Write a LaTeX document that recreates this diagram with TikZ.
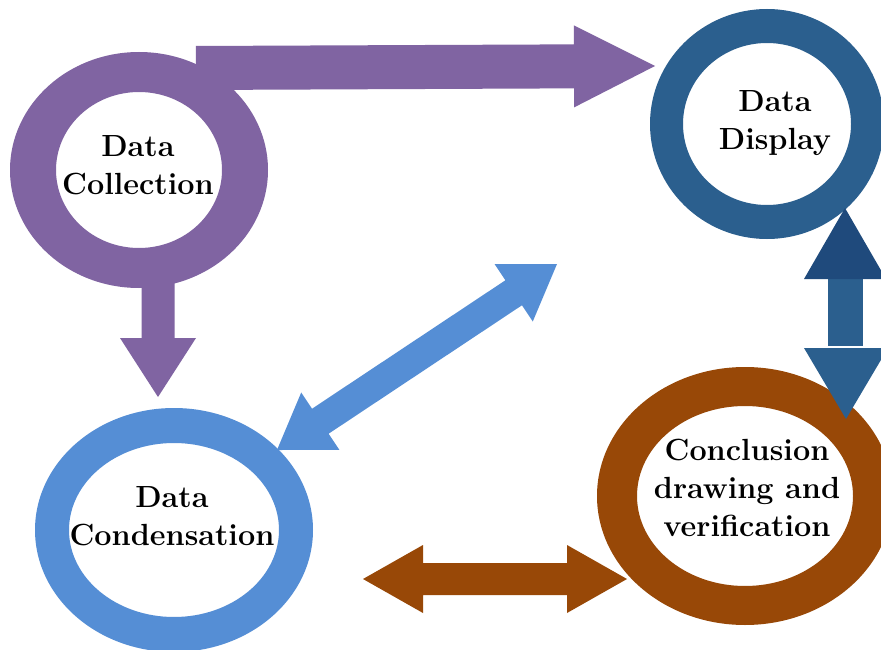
\documentclass[tikz,border=0pt]{standalone}
\usetikzlibrary{calc}
\definecolor{cpurple}{HTML}{8064A2}
\definecolor{clblue}{HTML}{558ED5}
\definecolor{cdblue}{HTML}{2B5F8E}
\definecolor{cnavy}{HTML}{1F4A7C}
\definecolor{cbrown}{HTML}{984807}
\tikzset{
  lbl/.style={anchor=base, inner sep=0pt, font=\fontsize{30.6}{38}\selectfont\bfseries},
}
% ring: colour, centre, outer rx, outer ry, inner rx, inner ry
\newcommand{\ringshape}[6]{%
  \fill[#1, even odd rule] (#2) ellipse [x radius=#3pt, y radius=#4pt]
                           (#2) ellipse [x radius=#5pt, y radius=#6pt];}
% single block arrow: colour, tail, tip, shaft half width, head half width, head length
\newcommand{\sglarrow}[6]{%
  \coordinate (bq) at ($(#3)!#6!(#2)$);
  \fill[#1] (#3) -- ($(bq)!#5!90:(#3)$) -- ($(bq)!#4!90:(#3)$)
    -- ($(#2)!#4!90:(#3)$) -- ($(#2)!#4!-90:(#3)$)
    -- ($(bq)!#4!-90:(#3)$) -- ($(bq)!#5!-90:(#3)$) -- cycle;}
% double block arrow: colour, end A, end B, shaft half width, head half width, head length
\newcommand{\dblarrow}[6]{%
  \coordinate (bq) at ($(#3)!#6!(#2)$);
  \coordinate (bp) at ($(#2)!#6!(#3)$);
  \fill[#1] (#3) -- ($(bq)!#5!90:(#3)$) -- ($(bq)!#4!90:(#3)$)
    -- ($(bp)!#4!90:(#3)$) -- ($(bp)!#5!90:(#3)$) -- (#2)
    -- ($(bp)!#5!-90:(#3)$) -- ($(bp)!#4!-90:(#3)$)
    -- ($(bq)!#4!-90:(#3)$) -- ($(bq)!#5!-90:(#3)$) -- cycle;}
\begin{document}
\begin{tikzpicture}[x=1pt,y=-1pt]
\useasboundingbox[fill=white] (0,0) rectangle (881,650);
% ring centres
\coordinate (cc) at (139,170);
\coordinate (cd) at (767,124);
\coordinate (cn) at (174,530);
\coordinate (cv) at (745,496);
% rings
\ringshape{cpurple}{cc}{129}{118}{83}{78}
\ringshape{cdblue}{cd}{117}{115}{84}{81}
\ringshape{clblue}{cn}{139}{122}{105}{87}
\ringshape{cbrown}{cv}{148}{129}{108}{90}
% labels
\node[lbl] (collection) at (138,157) {\begin{tabular}[t]{@{}c@{}}Data\\Collection\end{tabular}};
\node[lbl] (display) at (775,112) {\begin{tabular}[t]{@{}c@{}}Data\\Display\end{tabular}};
\node[lbl] (condensation) at (172,507) {\begin{tabular}[t]{@{}c@{}}Data\\Condensation\end{tabular}};
\node[lbl] (conclusion) at (747,460) {\begin{tabular}[t]{@{}c@{}}Conclusion\\drawing and\\verification\end{tabular}};
% arrow end points
\coordinate (htail) at (196,68);
\coordinate (htip) at (655,66);
\coordinate (vtail) at (158,268);
\coordinate (vtip) at (158,397);
\coordinate (dlow) at (277,450);
\coordinate (dup) at (557,264);
\coordinate (bleft) at (363,579);
\coordinate (bright) at (627,579);
\coordinate (uptip) at (845,208);
\coordinate (dntip) at (846,419);
% purple arrows
\sglarrow{cpurple}{htail}{htip}{22pt}{41pt}{81pt}
\sglarrow{cpurple}{vtail}{vtip}{16.5pt}{38pt}{59pt}
% light blue diagonal double arrow
\dblarrow{clblue}{dlow}{dup}{15pt}{34.5pt}{52pt}
% brown double arrow
\dblarrow{cbrown}{bleft}{bright}{16pt}{34pt}{60pt}
% vertical double arrow between Display and Conclusion
\fill[cdblue] ($(uptip)+(-17.5,71)$) rectangle ($(uptip)+(17.5,138)$);
\fill[cnavy] (uptip) -- ($(uptip)+(41,71)$) -- ($(uptip)+(-41,71)$) -- cycle;
\fill[cdblue] (dntip) -- ($(dntip)+(-42,-71)$) -- ($(dntip)+(42,-71)$) -- cycle;
\end{tikzpicture}
\end{document}
